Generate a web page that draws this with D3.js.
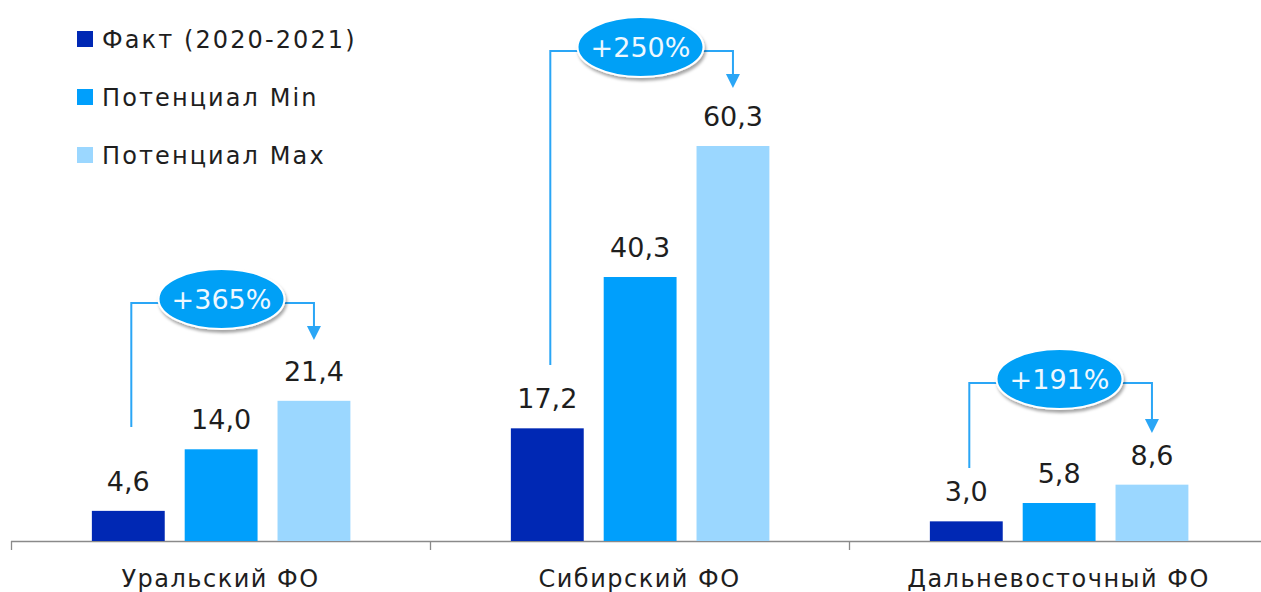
<!DOCTYPE html>
<html>
<head>
<meta charset="utf-8">
<script src="https://cdn.jsdelivr.net/npm/d3@7"></script>
<style>
  html, body { margin: 0; padding: 0; background: #fff; }
  svg { display: block; font-family: "DejaVu Sans", Verdana, sans-serif; }
</style>
</head>
<body>
<svg id="chart" width="1261" height="592"></svg>
<script>
// ---- data ----
const categories = ["Уральский ФО", "Сибирский ФО", "Дальневосточный ФО"];
const seriesNames = ["Факт (2020-2021)", "Потенциал Min", "Потенциал Max"];
const fact = [4.6, 17.2, 3.0];
const potentialMin = [14.0, 40.3, 5.8];
const potentialMax = [21.4, 60.3, 8.6];
const growthLabels = ["+365%", "+250%", "+191%"];

// ---- layout (annotation placement, pixels) ----
const annLineY = [303, 51, 383];
const annLeftEnd = [427, 365, 468];
const annArrowTip = [340, 88, 433];

const colors = ["#0028b4", "#009ffc", "#9bd7ff"];
const lineColor = "#2aa6f6";
const textColor = "#1e1e1e";

const svg = d3.select("#chart");
const W = 1261, H = 592;

const defs = svg.append("defs");
const f = defs.append("filter").attr("id", "shadow").attr("x", "-20%").attr("y", "-20%").attr("width", "140%").attr("height", "160%");
f.append("feDropShadow").attr("dx", 1.5).attr("dy", 3).attr("stdDeviation", 1.6).attr("flood-color", "#000").attr("flood-opacity", 0.35);

const series = [fact, potentialMin, potentialMax];
const data = categories.map((c, i) => ({ cat: c, values: series.map((s, k) => ({ key: seriesNames[k], v: s[i], k })) }));

const baseY = 541;
const x0 = d3.scaleBand().domain(categories).range([11, 1268]).padding(0);
const bw0 = x0.bandwidth();
const x1 = d3.scaleBand().domain(seriesNames).range([bw0 * 0.193, bw0 * 0.81]).paddingInner(0.215).paddingOuter(0);
const y = d3.scaleLinear().domain([0, 60.3]).range([baseY, 146]);

// axis
const axis = d3.axisBottom(x0).tickSize(0).tickFormat(d => d);
const gAxis = svg.append("g").attr("transform", `translate(0,${baseY})`).call(axis);
gAxis.select(".domain").remove();
gAxis.selectAll(".tick text")
  .attr("y", 46).attr("dy", 0)
  .attr("font-size", 24).attr("letter-spacing", 1.5)
  .attr("font-family", "DejaVu Sans, Verdana, sans-serif")
  .attr("fill", textColor);
svg.append("line").attr("x1", 11).attr("x2", W).attr("y1", baseY + 0.5).attr("y2", baseY + 0.5)
  .attr("stroke", "#8a8a8a").attr("stroke-width", 1.3);
// group boundary ticks
const boundaries = categories.map(c => x0(c)).concat([x0(categories[categories.length - 1]) + bw0]);
svg.selectAll("line.btick").data(boundaries).join("line").attr("class", "btick")
  .attr("x1", d => Math.round(d) + 0.5).attr("x2", d => Math.round(d) + 0.5)
  .attr("y1", baseY).attr("y2", baseY + 9)
  .attr("stroke", "#8a8a8a").attr("stroke-width", 1.3);

// bars
const groups = svg.append("g").selectAll("g").data(data).join("g")
  .attr("transform", d => `translate(${x0(d.cat)},0)`);
groups.selectAll("rect").data(d => d.values).join("rect")
  .attr("x", d => x1(d.key)).attr("width", x1.bandwidth())
  .attr("y", d => y(d.v)).attr("height", d => baseY - y(d.v))
  .attr("fill", d => colors[d.k]);
groups.selectAll("text.val").data(d => d.values).join("text").attr("class", "val")
  .attr("x", d => x1(d.key) + x1.bandwidth() / 2)
  .attr("y", d => y(d.v) - 20)
  .attr("text-anchor", "middle").attr("font-size", 27).attr("fill", textColor)
  .text(d => d.v.toFixed(1).replace(".", ","));

// annotations
const rx = 63, ry = 30;
data.forEach((d, i) => {
  const gx = x0(d.cat);
  const lx = gx + x1(seriesNames[0]) + x1.bandwidth() / 2 + 3;
  const rxp = gx + x1(seriesNames[2]) + x1.bandwidth() / 2;
  const cx = gx + bw0 / 2 + 1;
  const ly = annLineY[i];
  const g = svg.append("g");
  g.append("path")
    .attr("d", `M${lx},${annLeftEnd[i]} V${ly} H${cx}`)
    .attr("fill", "none").attr("stroke", lineColor).attr("stroke-width", 2);
  g.append("path")
    .attr("d", `M${cx},${ly} H${rxp} V${annArrowTip[i] - 12}`)
    .attr("fill", "none").attr("stroke", lineColor).attr("stroke-width", 2);
  g.append("path")
    .attr("d", `M${rxp - 7},${annArrowTip[i] - 14} L${rxp + 7},${annArrowTip[i] - 14} L${rxp},${annArrowTip[i]} Z`)
    .attr("fill", lineColor);
  const cy = ly - 4;
  g.append("ellipse").attr("cx", cx).attr("cy", cy).attr("rx", rx).attr("ry", ry)
    .attr("fill", "#00a0f6").attr("stroke", "#ffffff").attr("stroke-width", 2)
    .attr("filter", "url(#shadow)");
  g.append("text").attr("x", cx).attr("y", cy + 10)
    .attr("text-anchor", "middle").attr("font-size", 27).attr("fill", "#eef8ff")
    .text(growthLabels[i]);
});

// legend
const legend = svg.append("g").selectAll("g").data(seriesNames).join("g")
  .attr("transform", (d, i) => `translate(77,${31 + i * 58})`);
legend.append("rect").attr("width", 16).attr("height", 16).attr("fill", (d, i) => colors[i]);
legend.append("text").attr("x", 25).attr("y", 17)
  .attr("font-size", 24).attr("letter-spacing", 2.1).attr("fill", textColor)
  .text(d => d);
</script>
</body>
</html>
